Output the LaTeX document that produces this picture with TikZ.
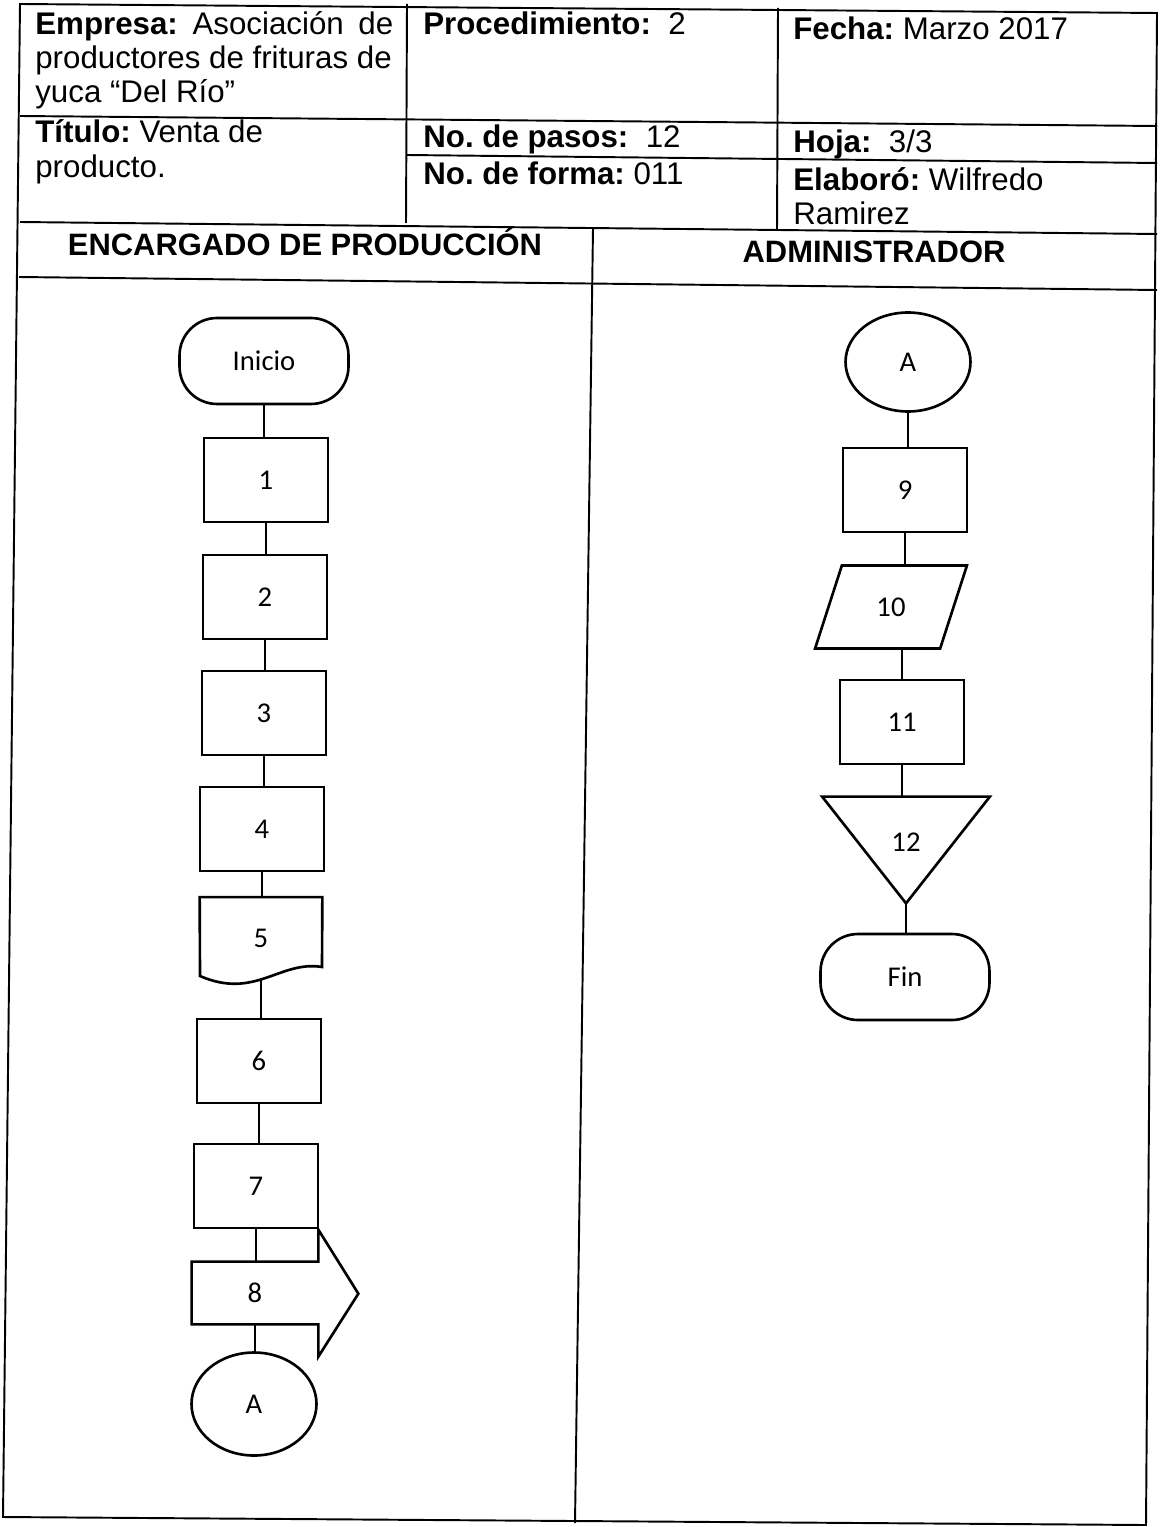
\documentclass[tikz,border=0pt]{standalone}
\usepackage{fontspec}
\setmainfont{Liberation Sans}
\newfontfamily\flowfam{Carlito}
\usetikzlibrary{shapes.geometric}
\frenchspacing
\newcommand\flowfont{\flowfam\fontsize{16.3}{19}\selectfont}
\newcommand\headfont{\fontsize{17.8}{21}\selectfont}
\tikzset{
    flowline/.style={line width=1.5pt},
    gridline/.style={line width=1.1pt},
    headtext/.style={anchor=base west, inner sep=0pt, font=\headfont},
    lanetext/.style={anchor=base, inner sep=0pt, font=\fontsize{17.6}{21}\selectfont\bfseries},
    stepbox/.style={draw, flowline, rectangle, minimum width=2.48cm, minimum height=1.68cm, font=\flowfont},
    termbox/.style={draw, flowline, rectangle, rounded corners=0.75cm, minimum width=3.38cm, minimum height=1.72cm, font=\flowfont},
    connbox/.style={draw, flowline, ellipse, minimum width=2.5cm, minimum height=1.98cm, font=\flowfont},
    iobox/.style={draw, flowline, trapezium, trapezium left angle=70, trapezium right angle=110,
        trapezium stretches=true, minimum width=3.04cm, minimum height=1.66cm, font=\flowfont},
    holder/.style={rectangle, inner sep=0pt, font=\flowfont}
}
\begin{document}
\begin{tikzpicture}[x=0.02cm, y=-0.02cm]
                \useasboundingbox (0,0) rectangle (1160,1527);
                %frame
                \coordinate (TL) at (20,4);
                \coordinate (TR) at (1157,13);
                \coordinate (BL) at (3,1517);
                \coordinate (BR) at (1146,1525);
                \draw[gridline] (TL) -- (TR) -- (BR) -- (BL) -- cycle;
                %header rows
                \draw[gridline] (20,116) -- (1157,126);
                \draw[gridline] (407,155) -- (1157,163);
                \draw[gridline] (20,222) -- (1157,234);
                \draw[gridline] (19,277) -- (1157,290);
                \draw[gridline] (407,4) -- (406,223);
                \draw[gridline] (778,8) -- (777,230);
                \draw[gridline] (593,228) -- (575,1523);
                %header text
                \node[headtext] (emp1) at (35,35) {\makebox[7.16cm][s]{\textbf{Empresa:} Asociación de}};
                \node[headtext] (emp2) at (35,69) {productores de frituras de};
                \node[headtext] (emp3) at (35,103) {yuca “Del Río”};
                \node[headtext] (proc) at (423,35) {\textbf{Procedimiento:}~ 2};
                \node[headtext] (fecha) at (793,40) {\textbf{Fecha:} Marzo 2017};
                \node[headtext] (tit1) at (35,143) {\textbf{Título:} Venta de};
                \node[headtext] (tit2) at (35,178) {producto.};
                \node[headtext] (pasos) at (423,148) {\textbf{No. de pasos:}~ 12};
                \node[headtext] (forma) at (423,185) {\textbf{No. de forma:} 011};
                \node[headtext] (hoja) at (793,153) {\textbf{Hoja:}~ 3/3};
                \node[headtext] (elab1) at (793,191) {\textbf{Elaboró:} Wilfredo};
                \node[headtext] (elab2) at (793,225) {Ramirez};
                \node[lanetext] (lane1) at (305,256) {ENCARGADO DE PRODUCCIÓN};
                \node[lanetext] (lane2) at (874,263) {ADMINISTRADOR};
                %left lane
                \node[termbox] (ini) at (264,361) {Inicio};
                \node[stepbox] (n1) at (266,480) {1};
                \node[stepbox] (n2) at (265,597) {2};
                \node[stepbox] (n3) at (264,713) {3};
                \node[stepbox] (n4) at (262,829) {4};
                \node[holder, minimum width=2.44cm, minimum height=1.62cm] (n5) at (261,938) {5};
                    \draw[flowline] (n5.north west) -- (n5.north east) -- (322,967)
                        .. controls (280,960) and (255,1000) .. (200,976) -- cycle;
                \node[stepbox] (n6) at (259,1061) {6};
                \node[stepbox] (n7) at (256,1186) {7};
                \node[holder, minimum width=2.52cm, minimum height=1.24cm] (n8) at (255,1293) {8};
                    \draw[flowline] (n8.north west) -- (n8.north east) -- ++(0,-32) -- ++(40,64)
                        -- ++(-40,63) -- (n8.south east) -- (n8.south west) -- cycle;
                \node[connbox, minimum height=2.06cm] (ca) at (254,1404) {A};
                %right lane
                \node[connbox] (cb) at (908,362) {A};
                \node[stepbox] (n9) at (905,490) {9};
                \node[iobox] (n10) at (891,607) {10};
                \node[stepbox] (n11) at (902,722) {11};
                \node[holder, minimum width=3.34cm, minimum height=2.12cm, text depth=0.3cm] (n12) at (906,850) {12};
                    \draw[flowline] (n12.north west) -- (n12.north east) -- (n12.south) -- cycle;
                \node[termbox] (fin) at (905,977) {Fin};
                %connectors
                \foreach \a/\b in {ini/n1,n1/n2,n2/n3,n3/n4,n4/n5,n5/n6,n6/n7,n7/n8,n8/ca,
                                   cb/n9,n9/n10,n11/n12,n12/fin}
                    \draw[flowline] (\a.south) -- (\a.south |- \b.north);
                \draw[flowline] (n11.north |- n10.south) -- (n11.north);
            \end{tikzpicture}
\end{document}
